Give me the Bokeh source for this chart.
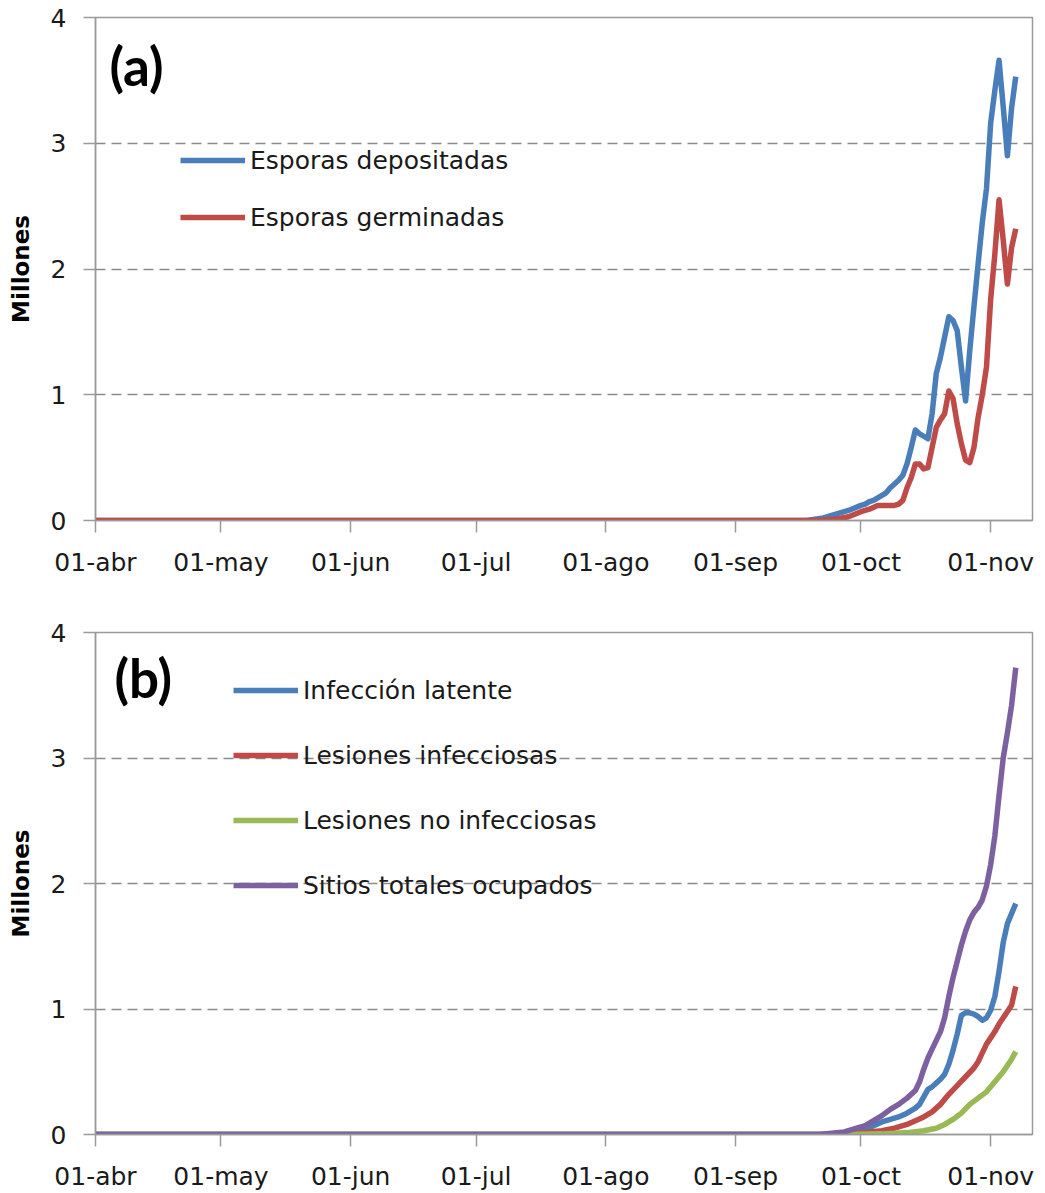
import pandas as pd
from bokeh.plotting import figure
from bokeh.layouts import column
from bokeh.models import Range1d, FixedTicker, Legend, LegendItem, Label
from bokeh.embed import file_html
from bokeh.resources import INLINE

# ---------------- data ----------------
X_START = "2013-04-01"
X_END = "2013-11-11"
tick_dates = ["2013-04-01", "2013-05-01", "2013-06-01", "2013-07-01",
              "2013-08-01", "2013-09-01", "2013-10-01", "2013-11-01"]
tick_labels = ["01-abr", "01-may", "01-jun", "01-jul",
               "01-ago", "01-sep", "01-oct", "01-nov"]
y_ticks = [0, 1, 2, 3, 4]

# panel (a)
dep_dates = ["04-01", "09-18", "09-22", "09-25", "09-28", "10-01", "10-02", "10-03",
             "10-04", "10-05", "10-06", "10-07", "10-08", "10-09", "10-10", "10-11",
             "10-12", "10-13", "10-14", "10-15", "10-16", "10-17", "10-18", "10-19",
             "10-20", "10-21", "10-22", "10-23", "10-24", "10-25", "10-26", "10-27",
             "10-28", "10-29", "10-30", "10-31", "11-01", "11-02", "11-03", "11-04",
             "11-05", "11-06", "11-07"]
esporas_depositadas = [0, 0, 0.02, 0.05, 0.08, 0.12, 0.13, 0.15,
                       0.16, 0.18, 0.20, 0.22, 0.26, 0.29, 0.32, 0.36,
                       0.45, 0.58, 0.72, 0.69, 0.67, 0.65, 0.85, 1.17,
                       1.30, 1.46, 1.62, 1.59, 1.51, 1.22, 0.95, 1.35,
                       1.70, 2.04, 2.37, 2.64, 3.16, 3.42, 3.66, 3.29,
                       2.90, 3.28, 3.53]

ger_dates = ["04-01", "09-20", "09-25", "09-28", "10-01", "10-03", "10-05", "10-09",
             "10-10", "10-11", "10-12", "10-13", "10-14", "10-15", "10-16", "10-17",
             "10-18", "10-19", "10-20", "10-21", "10-22", "10-23", "10-24", "10-25",
             "10-26", "10-27", "10-28", "10-29", "10-30", "10-31", "11-01", "11-02",
             "11-03", "11-04", "11-05", "11-06", "11-07"]
esporas_germinadas = [0, 0, 0.01, 0.03, 0.07, 0.09, 0.12, 0.12,
                      0.13, 0.16, 0.26, 0.34, 0.45, 0.45, 0.41, 0.42,
                      0.58, 0.74, 0.80, 0.85, 1.03, 0.97, 0.77, 0.61,
                      0.48, 0.46, 0.58, 0.82, 1.00, 1.22, 1.76, 2.12,
                      2.55, 2.23, 1.88, 2.17, 2.32]

# panel (b)
lat_dates = ["04-01", "09-22", "09-26", "09-30", "10-02", "10-04", "10-06", "10-08",
             "10-10", "10-12", "10-14", "10-15", "10-16", "10-17", "10-18", "10-19",
             "10-20", "10-21", "10-22", "10-23", "10-24", "10-25", "10-26", "10-27",
             "10-28", "10-29", "10-30", "10-31", "11-01", "11-02", "11-03", "11-04",
             "11-05", "11-06", "11-07"]
infeccion_latente = [0, 0, 0.01, 0.03, 0.04, 0.07, 0.10, 0.12,
                     0.14, 0.17, 0.21, 0.24, 0.30, 0.36, 0.38, 0.41,
                     0.44, 0.48, 0.56, 0.67, 0.80, 0.95, 0.97, 0.97,
                     0.96, 0.94, 0.91, 0.93, 0.99, 1.10, 1.30, 1.53,
                     1.68, 1.76, 1.84]

inf_dates = ["04-01", "09-26", "09-30", "10-03", "10-06", "10-09", "10-12", "10-14",
             "10-16", "10-18", "10-20", "10-22", "10-24", "10-26", "10-28", "10-29",
             "10-30", "10-31", "11-01", "11-02", "11-03", "11-04", "11-05", "11-06",
             "11-07"]
lesiones_infecciosas = [0, 0, 0.01, 0.02, 0.03, 0.05, 0.08, 0.11,
                        0.14, 0.18, 0.24, 0.32, 0.39, 0.46, 0.53, 0.58,
                        0.65, 0.72, 0.77, 0.82, 0.88, 0.93, 0.98, 1.03,
                        1.18]

noinf_dates = ["04-01", "09-26", "10-06", "10-12", "10-16", "10-19", "10-21", "10-23",
               "10-25", "10-27", "10-29", "10-31", "11-02", "11-04", "11-06", "11-07"]
lesiones_no_infecciosas = [0, 0, 0.005, 0.015, 0.03, 0.05, 0.08, 0.12,
                           0.17, 0.24, 0.29, 0.34, 0.42, 0.50, 0.60, 0.66]

tot_dates = ["04-01", "09-21", "09-24", "09-27", "09-30", "10-02", "10-04", "10-06",
             "10-08", "10-10", "10-12", "10-14", "10-15", "10-16", "10-17", "10-18",
             "10-19", "10-20", "10-21", "10-22", "10-23", "10-24", "10-25", "10-26",
             "10-27", "10-28", "10-29", "10-30", "10-31", "11-01", "11-02", "11-03",
             "11-04", "11-05", "11-06", "11-07"]
sitios_totales = [0, 0, 0.01, 0.02, 0.05, 0.07, 0.11, 0.15,
                  0.20, 0.24, 0.29, 0.35, 0.42, 0.52, 0.61, 0.68,
                  0.75, 0.82, 0.93, 1.10, 1.25, 1.38, 1.51, 1.62,
                  1.71, 1.77, 1.81, 1.87, 1.98, 2.15, 2.38, 2.70,
                  3.00, 3.20, 3.42, 3.72]

BLUE = "#4A7EBB"
RED = "#BE4B48"
GREEN = "#98B954"
PURPLE = "#7D60A0"
AXIS_GRAY = "#9a9a9a"
GRID_GRAY = "#8a8a8a"
TEXT = "#1a1a1a"
FONT = "DejaVu Sans"
LW = 5.5


def to_dt(md):
    return pd.to_datetime(["2013-" + d for d in md])


def ms(s):
    return int(pd.Timestamp(s).value // 10**6)


tick_ms = [ms(d) for d in tick_dates]


def make_fig(height, border_top, border_bottom):
    p = figure(width=1038, height=height, x_axis_type="datetime",
               x_range=Range1d(ms(X_START), ms(X_END)), y_range=Range1d(0, 4),
               output_backend="svg", toolbar_location=None,
               min_border_left=95, min_border_right=6,
               min_border_top=border_top, min_border_bottom=border_bottom)
    p.background_fill_color = "white"
    p.border_fill_color = "white"
    p.outline_line_color = AXIS_GRAY
    p.outline_line_width = 1.5
    p.xgrid.visible = False
    p.ygrid.ticker = FixedTicker(ticks=[1, 2, 3])
    p.ygrid.grid_line_color = GRID_GRAY
    p.ygrid.grid_line_width = 1.5
    p.ygrid.grid_line_dash = "10 6"

    p.xaxis.ticker = FixedTicker(ticks=tick_ms)
    p.xaxis.major_label_overrides = dict(zip(tick_ms, tick_labels))
    p.yaxis.ticker = FixedTicker(ticks=y_ticks)
    for ax in (p.xaxis, p.yaxis):
        ax.axis_line_color = AXIS_GRAY
        ax.axis_line_width = 1.5
        ax.major_tick_line_color = AXIS_GRAY
        ax.major_tick_line_width = 1.5
        ax.major_tick_out = 12
        ax.major_tick_in = 0
        ax.minor_tick_line_color = None
        ax.major_label_text_font = FONT
        ax.major_label_text_font_size = "25px"
        ax.major_label_text_color = TEXT
    p.xaxis.major_label_standoff = 15
    p.yaxis.major_label_standoff = 17
    p.yaxis.axis_label = "Millones"
    p.yaxis.axis_label_text_font = FONT
    p.yaxis.axis_label_text_font_style = "bold"
    p.yaxis.axis_label_text_font_size = "23px"
    p.yaxis.axis_label_text_color = "black"
    p.yaxis.axis_label_standoff = 14
    return p


def add_legend(p, items, loc, spacing):
    leg = Legend(items=[LegendItem(label=l, renderers=[r]) for l, r in items],
                 location=loc, orientation="vertical",
                 glyph_width=65, glyph_height=30, label_height=30,
                 spacing=spacing, padding=0, margin=0, label_standoff=5,
                 border_line_color=None, background_fill_alpha=0,
                 label_text_font=FONT, label_text_font_size="25px",
                 label_text_color=TEXT)
    p.add_layout(leg)


# ---------------- panel (a) ----------------
p1 = make_fig(606, 17, 86)
r_dep = p1.line(to_dt(dep_dates), esporas_depositadas, line_color=BLUE,
                line_width=LW, line_join="round")
r_ger = p1.line(to_dt(ger_dates), esporas_germinadas, line_color=RED,
                line_width=LW, line_join="round")
add_legend(p1, [("Esporas depositadas", r_dep), ("Esporas germinadas", r_ger)],
           (85, 288), 27)
p1.add_layout(Label(x=14, y=455, x_units="screen", y_units="screen", text="(a)",
                    text_font="Lato", text_font_style="bold", text_font_size="53px",
                    text_baseline="middle", text_color="black"))

# ---------------- panel (b) ----------------
p2 = make_fig(587, 26, 59)
r_lat = p2.line(to_dt(lat_dates), infeccion_latente, line_color=BLUE,
                line_width=LW, line_join="round")
r_inf = p2.line(to_dt(inf_dates), lesiones_infecciosas, line_color=RED,
                line_width=LW, line_join="round")
r_noi = p2.line(to_dt(noinf_dates), lesiones_no_infecciosas, line_color=GREEN,
                line_width=LW, line_join="round")
r_tot = p2.line(to_dt(tot_dates), sitios_totales, line_color=PURPLE,
                line_width=LW, line_join="round")
add_legend(p2, [("Infección latente", r_lat), ("Lesiones infecciosas", r_inf),
                ("Lesiones no infecciosas", r_noi), ("Sitios totales ocupados", r_tot)],
           (138, 234), 35)
p2.add_layout(Label(x=19, y=457, x_units="screen", y_units="screen", text="(b)",
                    text_font="Lato", text_font_style="bold", text_font_size="53px",
                    text_baseline="middle", text_color="black"))

layout = column(p1, p2, spacing=0)
open("out.html", "w").write(file_html(layout, INLINE))
